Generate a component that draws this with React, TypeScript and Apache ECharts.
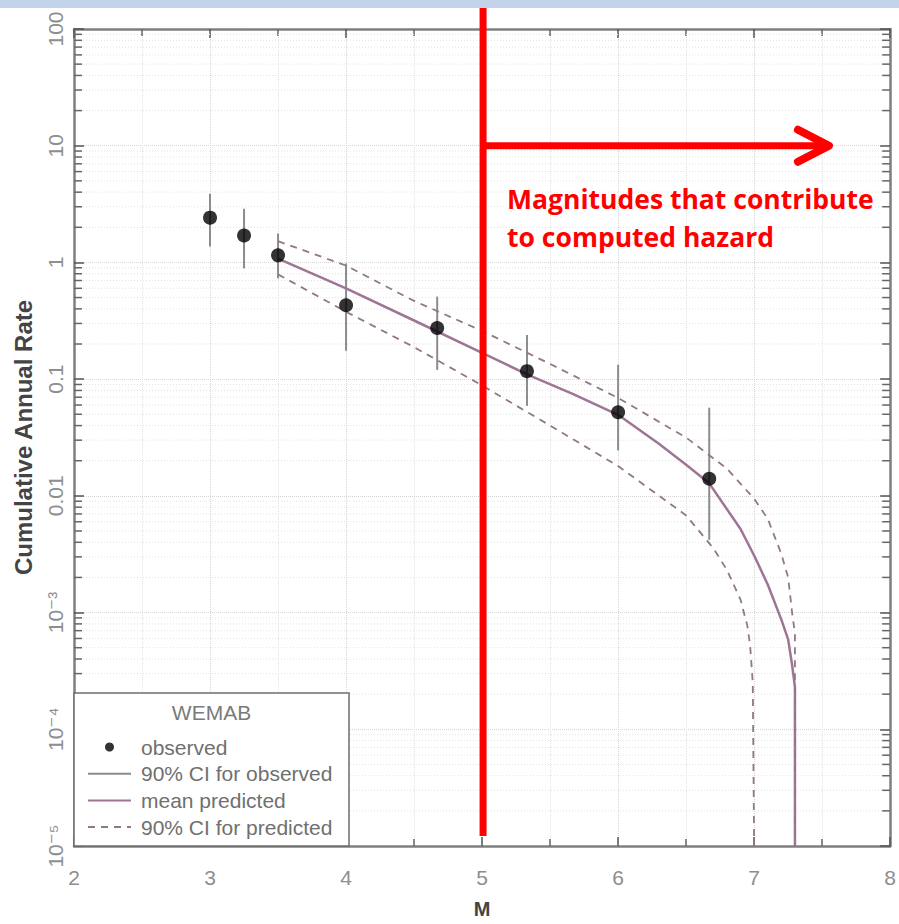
import React, { useEffect, useRef } from 'react';
import * as echarts from 'echarts';

// ---------- axes ----------
const X_MIN = 2;
const X_MAX = 8;
const Y_MIN = 1e-5;
const Y_MAX = 100;
const yTickExps = [-5, -4, -3, -2, -1, 0, 1, 2];
const yTickLabels = ['10⁻⁵', '10⁻⁴', '10⁻³', '0.01', '0.1', '1', '10', '100'];

// ---------- observed ----------
const observedM = [3.0, 3.25, 3.5, 4.0, 4.67, 5.33, 6.0, 6.67];
const observedRate = [2.42, 1.7, 1.15, 0.43, 0.274, 0.117, 0.052, 0.014];
const observedCILow = [1.37, 0.89, 0.73, 0.175, 0.12, 0.059, 0.0245, 0.0042];
const observedCIHigh = [3.87, 2.88, 1.77, 0.98, 0.51, 0.239, 0.133, 0.057];

// ---------- predicted ----------
const meanM = [3.5, 4.0, 4.5, 5.0, 5.33, 5.67, 6.0, 6.3, 6.5, 6.67, 6.9, 7.0, 7.1, 7.2, 7.25, 7.28, 7.3, 7.3];
const meanRate = [1.08, 0.6, 0.318, 0.168, 0.11, 0.0743, 0.0495, 0.028, 0.0185, 0.0128, 0.0052, 0.00308, 0.00174, 0.00087, 0.00059, 0.00035, 0.00023, 1e-5];

const upperM = [3.5, 4.0, 4.5, 5.0, 5.5, 6.0, 6.5, 6.8, 7.0, 7.1, 7.2, 7.25, 7.28, 7.3, 7.3];
const upperRate = [1.52, 0.94, 0.468, 0.259, 0.135, 0.069, 0.0316, 0.0171, 0.00946, 0.00637, 0.00318, 0.002, 0.00098, 0.00066, 1e-5];

const lowerM = [3.5, 4.0, 4.5, 5.0, 5.5, 6.0, 6.5, 6.7, 6.8, 6.9, 6.95, 6.97, 6.99, 7.0];
const lowerRate = [0.79, 0.378, 0.188, 0.0883, 0.04, 0.018, 0.0068, 0.00356, 0.00232, 0.00129, 0.00077, 0.00053, 0.00025, 1e-5];

// ---------- annotation ----------
const thresholdM = 5;
const arrowEndM = 7.55;
const arrowRate = 10;
const annotationLines = ['Magnitudes that contribute', 'to computed hazard'];
const legendTitle = 'WEMAB';
const legendNames = ['observed', '90% CI for observed', 'mean predicted', '90% CI for predicted'];

const MEAN_COLOR = '#9e7595';
const CI_COLOR = '#917789';
const BAR_COLOR = '#8c8c8c';
const AXIS_COLOR = '#7f7f7f';
const LABEL_COLOR = '#8e8e8e';
const FONT = 'Liberation Sans, Arial, DejaVu Sans';

const minorValues: number[] = [];
for (let e = -5; e < 2; e++) {
  for (let k = 2; k <= 9; k++) minorValues.push(k * Math.pow(10, e));
}

const yLabel = (v: number) => {
  const e = Math.round(Math.log10(v));
  const i = yTickExps.indexOf(e);
  return i >= 0 ? yTickLabels[i] : '';
};

function buildOption(): any {
  const errorBarSeries = observedM.map((m, i) => ({
    type: 'line',
    name: legendNames[1],
    data: [
      [m, observedCILow[i]],
      [m, observedCIHigh[i]],
    ],
    symbol: 'none',
    lineStyle: { color: BAR_COLOR, width: 2 },
    itemStyle: { color: BAR_COLOR },
    z: 3,
    silent: true,
  }));

  return {
    animation: false,
    backgroundColor: '#ffffff',
    grid: { left: 74, right: 6, top: 29, bottom: 73 },
    xAxis: [
      {
        type: 'value',
        min: X_MIN,
        max: X_MAX,
        interval: 1,
        position: 'bottom',
        name: 'M',
        nameLocation: 'middle',
        nameGap: 53,
        nameTextStyle: { fontWeight: 'bold', fontSize: 20, color: '#444', fontFamily: FONT },
        axisLine: { lineStyle: { color: AXIS_COLOR, width: 2.5 } },
        axisTick: { inside: true, length: 9, lineStyle: { color: '#555', width: 1.5 } },
        minorTick: { show: true, splitNumber: 2, length: 7, lineStyle: { color: '#666', width: 1.5 } },
        axisLabel: { color: LABEL_COLOR, fontSize: 21, margin: 21, fontFamily: FONT },
        splitLine: { show: true, lineStyle: { color: '#d6d6d6', type: 'dotted', width: 1 } },
        minorSplitLine: { show: true, lineStyle: { color: '#e2e2e2', type: 'dotted', width: 1 } },
      },
      {
        type: 'value',
        min: X_MIN,
        max: X_MAX,
        interval: 1,
        position: 'top',
        axisLine: { lineStyle: { color: AXIS_COLOR, width: 2.5 } },
        axisTick: { inside: true, length: 9, lineStyle: { color: '#555', width: 1.5 } },
        minorTick: { show: true, splitNumber: 2, length: 7, lineStyle: { color: '#666', width: 1.5 } },
        axisLabel: { show: false },
        splitLine: { show: false },
      },
    ],
    yAxis: [
      {
        type: 'log',
        logBase: 10,
        min: Y_MIN,
        max: Y_MAX,
        position: 'left',
        name: 'Cumulative Annual Rate',
        nameLocation: 'middle',
        nameGap: 39,
        nameRotate: 90,
        nameTextStyle: { fontWeight: 'bold', fontSize: 24, color: '#444', fontFamily: FONT },
        axisLine: { lineStyle: { color: AXIS_COLOR, width: 2.5 } },
        axisTick: { inside: true, length: 10, lineStyle: { color: '#555', width: 1.5 } },
        axisLabel: { color: LABEL_COLOR, fontSize: 21, rotate: 90, margin: 8, fontFamily: FONT, formatter: yLabel },
        splitLine: { show: true, lineStyle: { color: '#d6d6d6', type: 'dotted', width: 1 } },
      },
      {
        type: 'log',
        logBase: 10,
        min: Y_MIN,
        max: Y_MAX,
        position: 'right',
        axisLine: { lineStyle: { color: AXIS_COLOR, width: 2.5 } },
        axisTick: { inside: true, length: 10, lineStyle: { color: '#555', width: 1.5 } },
        axisLabel: { show: false },
        splitLine: { show: false },
      },
    ],
    legend: {
      orient: 'vertical',
      left: 82,
      top: 731.5,
      itemWidth: 43,
      itemHeight: 9,
      itemGap: 5.7,
      z: 20,
      selectedMode: false,
      data: [
        { name: legendNames[0], icon: 'circle' },
        { name: legendNames[1], itemStyle: { opacity: 0 } },
        { name: legendNames[2], itemStyle: { opacity: 0 } },
        { name: legendNames[3], itemStyle: { opacity: 0 } },
      ],
      textStyle: { fontSize: 21, lineHeight: 21, color: '#707070', fontFamily: FONT, padding: [0, 0, 0, 5] },
    },
    series: [
      {
        type: 'custom',
        name: 'minorGrid',
        silent: true,
        z: 1,
        data: minorValues.map((v) => [X_MIN, v]),
        renderItem: (_params: any, api: any) => {
          const v = api.value(1);
          const pl = api.coord([X_MIN, v]);
          const pr = api.coord([X_MAX, v]);
          return {
            type: 'group',
            children: [
              {
                type: 'line',
                shape: { x1: pl[0], y1: pl[1], x2: pr[0], y2: pr[1] },
                style: { stroke: '#e2e2e2', lineWidth: 1, lineDash: [1, 2] },
              },
              {
                type: 'line',
                shape: { x1: pl[0], y1: pl[1], x2: pl[0] + 8, y2: pl[1] },
                style: { stroke: '#666', lineWidth: 1.5 },
              },
              {
                type: 'line',
                shape: { x1: pr[0] - 8, y1: pr[1], x2: pr[0], y2: pr[1] },
                style: { stroke: '#666', lineWidth: 1.5 },
              },
            ],
          };
        },
      },
      ...errorBarSeries,
      {
        type: 'line',
        name: legendNames[2],
        data: meanM.map((m, i) => [m, meanRate[i]]),
        symbol: 'none',
        lineStyle: { color: MEAN_COLOR, width: 2.5 },
        itemStyle: { color: MEAN_COLOR },
        z: 4,
        silent: true,
      },
      {
        type: 'line',
        name: legendNames[3],
        data: upperM.map((m, i) => [m, upperRate[i]]),
        symbol: 'none',
        lineStyle: { color: CI_COLOR, width: 1.8, type: [7, 6] },
        itemStyle: { color: CI_COLOR },
        z: 4,
        silent: true,
      },
      {
        type: 'line',
        name: legendNames[3],
        data: lowerM.map((m, i) => [m, lowerRate[i]]),
        symbol: 'none',
        lineStyle: { color: CI_COLOR, width: 1.8, type: [7, 6] },
        itemStyle: { color: CI_COLOR },
        z: 4,
        silent: true,
      },
      {
        type: 'scatter',
        name: legendNames[0],
        data: observedM.map((m, i) => [m, observedRate[i]]),
        symbol: 'circle',
        symbolSize: 14,
        itemStyle: { color: '#000' },
        z: 5,
        silent: true,
      },
    ],
  };
}

export default function App() {
  const ref = useRef<HTMLDivElement>(null);
  useEffect(() => {
    if (!ref.current) return;
    const chart = echarts.init(ref.current, null, { renderer: 'svg' });
    chart.setOption(buildOption());

    const x5 = chart.convertToPixel({ xAxisIndex: 0 }, thresholdM) as number;
    const xEnd = chart.convertToPixel({ xAxisIndex: 0 }, arrowEndM) as number;
    const x2 = chart.convertToPixel({ xAxisIndex: 0 }, X_MIN) as number;
    const yArrow = chart.convertToPixel({ yAxisIndex: 0 }, arrowRate) as number;
    const yBottom = chart.convertToPixel({ yAxisIndex: 0 }, Y_MIN) as number;

    const boxLeft = x2;
    const boxRight = 349;
    const boxTop = 693;

    chart.setOption({
      graphic: [
        {
          type: 'rect',
          z: 30,
          shape: { x: 0, y: 0, width: 899, height: 8 },
          style: { fill: '#c2d3eb' },
          silent: true,
        },
        {
          type: 'rect',
          z: 10,
          shape: { x: boxLeft, y: boxTop, width: boxRight - boxLeft, height: yBottom - boxTop },
          style: { fill: '#ffffff', stroke: '#6e6e6e', lineWidth: 1.5 },
          silent: true,
        },
        {
          type: 'text',
          z: 21,
          style: {
            text: legendTitle,
            x: (boxLeft + boxRight) / 2,
            y: 712,
            align: 'center',
            verticalAlign: 'middle',
            fill: '#7a7a7a',
            fontSize: 21,
            fontFamily: FONT,
          },
          silent: true,
        },
        {
          type: 'line',
          z: 25,
          shape: { x1: x5 + 1, y1: 8, x2: x5 + 1, y2: yBottom - 10 },
          style: { stroke: '#ff0000', lineWidth: 7 },
          silent: true,
        },
        {
          type: 'line',
          z: 25,
          shape: { x1: x5, y1: yArrow, x2: xEnd - 4, y2: yArrow },
          style: { stroke: '#ff0000', lineWidth: 7 },
          silent: true,
        },
        {
          type: 'polyline',
          z: 25,
          shape: {
            points: [
              [xEnd - 31, yArrow - 16],
              [xEnd, yArrow],
              [xEnd - 31, yArrow + 16],
            ],
          },
          style: { stroke: '#ff0000', lineWidth: 8, lineCap: 'round', lineJoin: 'round', fill: 'none' },
          silent: true,
        },
        ...annotationLines.map((t, i) => ({
          type: 'text',
          z: 26,
          style: {
            text: t,
            x: x5 + 25,
            y: yArrow + 53 + i * 38,
            align: 'left',
            verticalAlign: 'middle',
            fill: '#ff0000',
            fontSize: 26.5,
            fontWeight: 'bold',
            fontFamily: 'Open Sans, Lato, sans-serif',
          },
          silent: true,
        })),
      ],
    });

    return () => chart.dispose();
  }, []);
  return (
    <div
      ref={ref}
      style={{ position: 'fixed', left: 0, top: 0, width: 899, height: 924, background: '#fff' }}
    />
  );
}
